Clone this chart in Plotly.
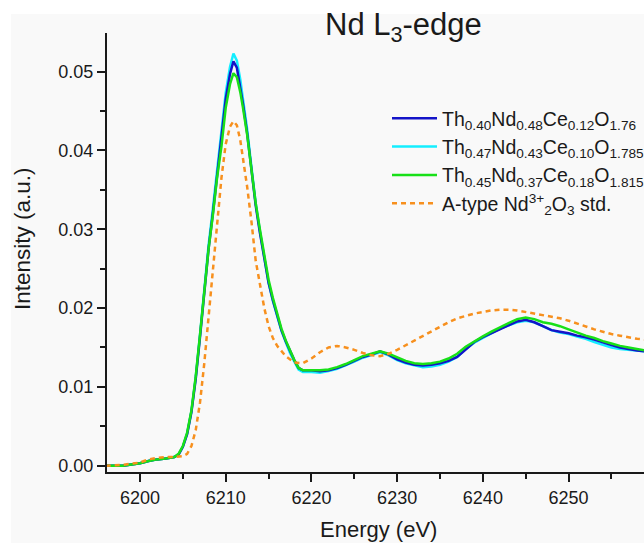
import plotly.graph_objects as go

# ---- data ----
energy = [6196, 6198, 6200, 6201, 6202, 6203, 6204, 6204.5, 6205, 6205.5, 6206, 6206.5,
          6207, 6207.5, 6208, 6208.5, 6209, 6209.5, 6210, 6210.5, 6210.9, 6211.3, 6211.7,
          6212, 6212.5, 6213, 6213.5, 6214, 6214.5, 6215, 6215.5, 6216, 6216.5, 6217,
          6217.5, 6218, 6218.5, 6219, 6220, 6221, 6222, 6223, 6224, 6225, 6226, 6227,
          6228, 6229, 6230, 6231, 6232, 6233, 6234, 6235, 6236, 6237, 6238, 6239, 6240,
          6241, 6242, 6243, 6244, 6245, 6246, 6247, 6248, 6249, 6250, 6251, 6252, 6253,
          6254, 6255, 6256, 6257, 6258, 6259]

s1_blue = [0.0000, 0.0000, 0.0003, 0.0006, 0.0008, 0.0009, 0.0011, 0.0014, 0.0024, 0.0040,
           0.0068, 0.0110, 0.0163, 0.0220, 0.0275, 0.0320, 0.0370, 0.0412, 0.0465, 0.0497,
           0.0513, 0.0505, 0.0482, 0.0460, 0.0422, 0.0375, 0.0330, 0.0295, 0.0262, 0.0232,
           0.0210, 0.0190, 0.0172, 0.0158, 0.0145, 0.0134, 0.0124, 0.0121, 0.0121, 0.0120,
           0.0121, 0.0124, 0.0128, 0.0133, 0.0138, 0.0141, 0.0145, 0.0141, 0.0135, 0.0131,
           0.0128, 0.0127, 0.0128, 0.0130, 0.0133, 0.0138, 0.0148, 0.0157, 0.0163, 0.0168,
           0.0174, 0.0179, 0.0183, 0.0185, 0.0182, 0.0177, 0.0172, 0.0170, 0.0168, 0.0165,
           0.0163, 0.0160, 0.0156, 0.0153, 0.0150, 0.0148, 0.0146, 0.0145]

s2_cyan = [0.0000, 0.0000, 0.0003, 0.0006, 0.0008, 0.0009, 0.0011, 0.0014, 0.0024, 0.0041,
           0.0069, 0.0112, 0.0166, 0.0224, 0.0280, 0.0326, 0.0376, 0.0419, 0.0473, 0.0506,
           0.0523, 0.0514, 0.0490, 0.0466, 0.0427, 0.0379, 0.0333, 0.0297, 0.0263, 0.0232,
           0.0209, 0.0189, 0.0171, 0.0157, 0.0143, 0.0132, 0.0122, 0.0119, 0.0119, 0.0118,
           0.0120, 0.0123, 0.0127, 0.0132, 0.0137, 0.0141, 0.0144, 0.0140, 0.0134, 0.0130,
           0.0127, 0.0125, 0.0126, 0.0128, 0.0132, 0.0138, 0.0148, 0.0156, 0.0162, 0.0168,
           0.0174, 0.0178, 0.0182, 0.0184, 0.0182, 0.0177, 0.0172, 0.0169, 0.0167, 0.0164,
           0.0161, 0.0157, 0.0153, 0.0150, 0.0148, 0.0147, 0.0146, 0.0145]

s3_green = [0.0000, 0.0000, 0.0003, 0.0006, 0.0008, 0.0009, 0.0011, 0.0015, 0.0025, 0.0042,
            0.0070, 0.0113, 0.0166, 0.0222, 0.0275, 0.0318, 0.0366, 0.0405, 0.0454, 0.0484,
            0.0498, 0.0493, 0.0474, 0.0455, 0.0420, 0.0376, 0.0333, 0.0299, 0.0266, 0.0236,
            0.0213, 0.0193, 0.0174, 0.0159, 0.0146, 0.0134, 0.0124, 0.0121, 0.0121, 0.0121,
            0.0122, 0.0125, 0.0129, 0.0134, 0.0139, 0.0142, 0.0145, 0.0142, 0.0137, 0.0133,
            0.0130, 0.0129, 0.0130, 0.0132, 0.0136, 0.0142, 0.0151, 0.0158, 0.0164, 0.0170,
            0.0176, 0.0181, 0.0186, 0.0188, 0.0186, 0.0182, 0.0180, 0.0177, 0.0173, 0.0169,
            0.0165, 0.0162, 0.0158, 0.0155, 0.0152, 0.0150, 0.0148, 0.0146]

energy_std = [6196, 6198, 6200, 6201, 6202, 6203, 6204, 6205, 6205.5, 6206, 6206.5, 6207,
              6207.5, 6208, 6208.5, 6209, 6209.5, 6210, 6210.5, 6210.9, 6211.3, 6211.7, 6212,
              6212.5, 6213, 6213.5, 6214, 6214.5, 6215, 6215.5, 6216, 6216.5, 6217, 6218,
              6219, 6220, 6221, 6222, 6223, 6224, 6225, 6226, 6227, 6228, 6229, 6230, 6231,
              6232, 6233, 6234, 6235, 6236, 6237, 6238, 6239, 6240, 6241, 6242, 6243, 6244,
              6245, 6246, 6247, 6248, 6249, 6250, 6251, 6252, 6253, 6254, 6255, 6256, 6257,
              6258, 6259]

s4_std = [0.0000, 0.0001, 0.0004, 0.0008, 0.0010, 0.0011, 0.0011, 0.0012, 0.0015, 0.0025,
          0.0045, 0.0080, 0.0130, 0.0190, 0.0245, 0.0300, 0.0365, 0.0408, 0.0430, 0.0437,
          0.0432, 0.0413, 0.0393, 0.0354, 0.0310, 0.0260, 0.0230, 0.0200, 0.0177, 0.0162,
          0.0152, 0.0145, 0.0139, 0.0131, 0.0130, 0.0136, 0.0144, 0.0150, 0.0152, 0.0150,
          0.0147, 0.0143, 0.0140, 0.0139, 0.0142, 0.0147, 0.0153, 0.0159, 0.0165, 0.0170,
          0.0176, 0.0182, 0.0187, 0.0190, 0.0193, 0.0195, 0.0197, 0.0198, 0.0198, 0.0197,
          0.0195, 0.0193, 0.0191, 0.0189, 0.0187, 0.0184, 0.0180, 0.0177, 0.0173, 0.0170,
          0.0167, 0.0165, 0.0163, 0.0161, 0.0160]

names = [
    "Th<sub>0.40</sub>Nd<sub>0.48</sub>Ce<sub>0.12</sub>O<sub>1.76</sub>",
    "Th<sub>0.47</sub>Nd<sub>0.43</sub>Ce<sub>0.10</sub>O<sub>1.785</sub>",
    "Th<sub>0.45</sub>Nd<sub>0.37</sub>Ce<sub>0.18</sub>O<sub>1.815</sub>",
    "A-type Nd<sup>3+</sup><sub>2</sub>O<sub>3</sub> std.",
]
colors = ["#1414c8", "#14eeff", "#18e018", "#f7901e"]

FONT = "Arial, Liberation Sans, sans-serif"
INK = "#1a1a1a"

fig = go.Figure()
fig.add_trace(go.Scatter(x=energy, y=s2_cyan, name=names[1], mode="lines",
                         line=dict(color=colors[1], width=2.5), legendrank=2))
fig.add_trace(go.Scatter(x=energy, y=s1_blue, name=names[0], mode="lines",
                         line=dict(color=colors[0], width=2.5), legendrank=1))
fig.add_trace(go.Scatter(x=energy, y=s3_green, name=names[2], mode="lines",
                         line=dict(color=colors[2], width=2.5), legendrank=3))
fig.add_trace(go.Scatter(x=energy_std, y=s4_std, name=names[3], mode="lines",
                         line=dict(color=colors[3], width=2.5, dash="5px,4px"), legendrank=4))

L, T, B, W, H = 107, 33, 71, 644, 543
pw, ph = W - L, H - T - B

def px(xp):
    return (xp - L) / pw

def py(yp):
    return (H - B - yp) / ph

fig.add_shape(type="rect", xref="paper", yref="paper", x0=px(11), x1=px(644),
              y0=py(543), y1=py(14), fillcolor="#f9f9f9", line_width=0, layer="below")

fig.update_layout(
    width=W, height=H,
    margin=dict(l=L, r=0, t=T, b=B, autoexpand=False),
    paper_bgcolor="white", plot_bgcolor="rgba(0,0,0,0)",
    font=dict(family=FONT, color=INK, size=18),
    showlegend=True,
    legend=dict(x=px(387), y=py(99), xanchor="left", yanchor="top",
                bgcolor="rgba(0,0,0,0)", font=dict(size=19.5, family=FONT, color=INK),
                itemwidth=45, tracegroupgap=0),
    annotations=[
        dict(text="Nd L<sub>3</sub>-edge", xref="paper", yref="paper", x=px(403), y=py(27),
             xanchor="center", yanchor="middle", showarrow=False,
             font=dict(size=31, family=FONT, color=INK)),
        dict(text="Energy (eV)", xref="paper", yref="paper", x=px(378), y=py(529),
             xanchor="center", yanchor="middle", showarrow=False,
             font=dict(size=22, family=FONT, color=INK)),
        dict(text="Intensity (a.u.)", xref="paper", yref="paper", x=px(22), y=py(239),
             xanchor="center", yanchor="middle", showarrow=False, textangle=-90,
             font=dict(size=22.5, family=FONT, color=INK)),
    ],
)

fig.update_xaxes(range=[6196.15, 6258.8], tick0=6200, dtick=10, ticks="outside",
                 ticklen=8, tickwidth=2, tickcolor=INK, showline=True, linewidth=2,
                 linecolor=INK, showgrid=False, zeroline=False,
                 tickfont=dict(size=18, family=FONT, color=INK),
                 minor=dict(dtick=5, ticks="outside", ticklen=5, tickwidth=2,
                            tickcolor=INK, showgrid=False))
fig.update_yaxes(range=[-0.0008, 0.0549], tick0=0, dtick=0.01, tickformat=".2f",
                 ticks="outside", ticklen=8, tickwidth=2, tickcolor=INK, showline=True,
                 linewidth=2, linecolor=INK, showgrid=False, zeroline=False,
                 tickfont=dict(size=18, family=FONT, color=INK),
                 minor=dict(dtick=0.005, ticks="outside", ticklen=5, tickwidth=2,
                            tickcolor=INK, showgrid=False))

fig.write_html("out.html")
